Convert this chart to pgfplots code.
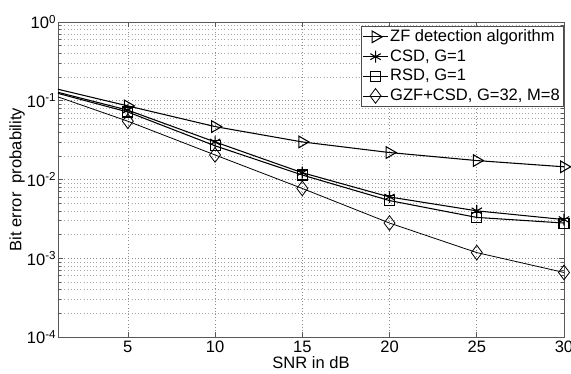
\documentclass[border=0pt]{standalone}
\usepackage{pgfplots}
\pgfplotsset{compat=1.18}
\usepackage{fontspec}
\setmainfont{Liberation Sans}
\begin{document}
\fontsize{12.4}{14}\selectfont
\begin{tikzpicture}
\begin{axis}[
  name=ax,
  scale only axis,
  width=379.5pt, height=236.25pt,
  xmin=1, xmax=30,
  ymode=log, ymin=1e-4, ymax=1,
  xtick={5,10,15,20,25,30},
  minor x tick num=0,
  ytick={1e-4,1e-3,1e-2,1e-1,1},
  yticklabels={10\textsuperscript{-4},10\textsuperscript{-3},10\textsuperscript{-2},10\textsuperscript{-1},10\textsuperscript{0}},
  /pgf/number format/assume math mode=true,
  tick align=inside,
  tick pos=both,
  major tick length=4pt,
  minor tick length=2pt,
  grid=both,
  major grid style={dotted, black!45},
  minor grid style={dotted, black!35},
  axis line style={black!65},
  every tick/.style={black!65},
  xlabel={SNR in dB},
  ylabel={Bit error\ \ probability},
  every axis x label/.style={at={(axis description cs:0.5,-0.081)}, anchor=center},
  every axis y label/.style={at={(axis description cs:-0.081,0.5)}, rotate=90, anchor=center},
  yticklabel style={xshift=3pt},
  xticklabel style={yshift=1pt},
  tick label style={font=\fontsize{12.4}{14}\selectfont},
  label style={font=\fontsize{12.4}{14}\selectfont},
  legend style={at={(1,1)}, anchor=north east, xshift=-0.5pt, yshift=-3pt,
    draw=black!70, inner sep=1pt, row sep=1.2pt,
    font=\fontsize{12.4}{14}\selectfont,
    nodes={inner sep=1.5pt}},
  legend cell align=left,
  legend image code/.code={\draw[mark indices={2}] plot coordinates {(0cm,0cm) (0.32cm,0cm) (0.64cm,0cm)};},
  every axis plot/.append style={line width=0.8pt, black},
]
\addplot+[black, mark=triangle, mark size=5pt, mark indices={2,3,4,5,6,7},
  mark options={solid, rotate=-90}] coordinates {
  (1,0.140) (5,0.086) (10,0.047) (15,0.030) (20,0.022) (25,0.0174) (30,0.0145)};
\addlegendentry{ZF detection algorithm}
\addplot+[black, mark=asterisk, mark size=4.5pt, mark indices={2,3,4,5,6,7},
  mark options={solid}] coordinates {
  (1,0.128) (5,0.076) (10,0.030) (15,0.0122) (20,0.0060) (25,0.0040) (30,0.0031)};
\addlegendentry{CSD, G=1}
\addplot+[black, mark=square, mark size=3.75pt, mark indices={2,3,4,5,6,7},
  mark options={solid}] coordinates {
  (1,0.124) (5,0.072) (10,0.0268) (15,0.0114) (20,0.0054) (25,0.0033) (30,0.0028)};
\addlegendentry{RSD, G=1}
\addplot+[black, line width=0.6pt, mark=diamond, mark size=5.5pt, mark indices={2,3,4,5,6,7},
  mark options={solid}] coordinates {
  (1,0.112) (5,0.055) (10,0.0205) (15,0.0077) (20,0.0028) (25,0.00118) (30,0.00066)};
\addlegendentry{GZF+CSD, G=32, M=8}
\end{axis}
\pgfresetboundingbox
\path ([shift={(-43.5pt,-27.75pt)}]ax.south west) rectangle ([shift={(5.25pt,16.5pt)}]ax.north east);
\end{tikzpicture}
\end{document}
